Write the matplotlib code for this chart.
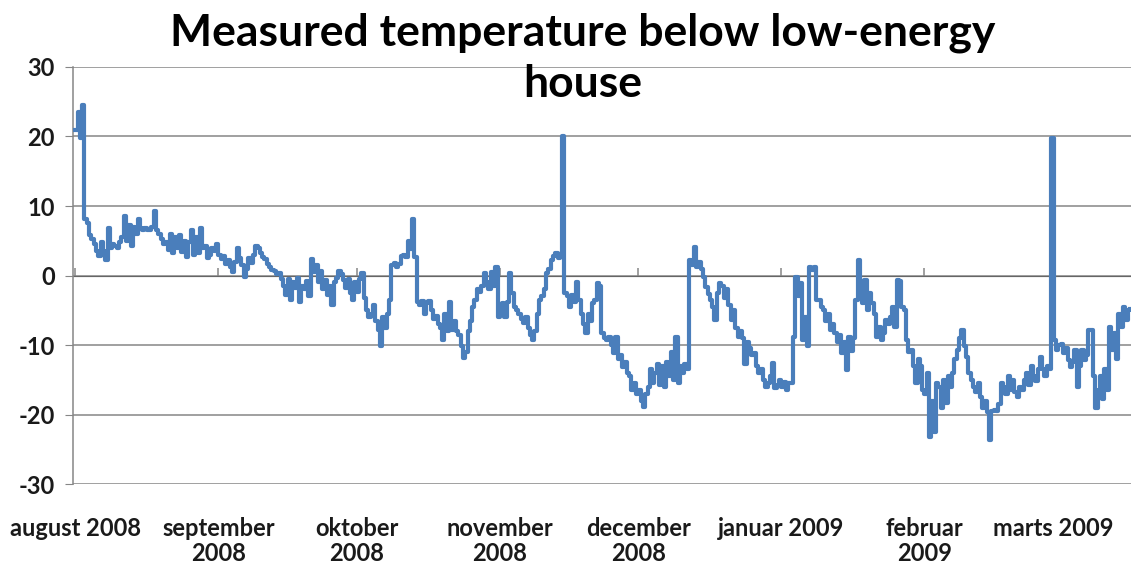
import numpy as np
import pandas as pd
import matplotlib
matplotlib.use("Agg")
import matplotlib.pyplot as plt

# two readings per day (00:00 and 12:00)
aug_2008 = [21.0, 23.5, 19.8, 24.6, 8.2, 7.6, 5.8, 5.2, 4.5, 3.5, 2.8, 4.8, 3.5, 2.3,
            6.8, 4.0, 4.6, 4.2, 4.0, 4.8, 5.5, 8.5, 5.0, 7.2, 4.2, 7.0, 6.0, 8.2,
            6.8, 6.6, 6.8, 6.5, 6.6, 7.0, 9.3, 6.5, 6.0, 5.2, 4.5, 4.8, 3.6, 6.0,
            3.2, 5.5, 4.0, 5.8, 3.4, 5.0, 2.6, 4.8, 6.5, 3.0, 5.5, 3.2, 6.8, 4.0,
            4.2, 2.5, 3.0, 4.0, 3.5, 4.6]
sep_2008 = [3.0, 2.4, 2.8, 1.6, 2.2, 1.2, 0.5, 2.0, 4.0, 2.5, 1.5, -0.2, 1.0, 2.5,
            1.8, 3.0, 4.3, 4.0, 3.2, 2.6, 2.4, 1.6, 1.2, 0.8, 0.6, 0.2, 0.4, -0.5,
            -1.5, -2.8, -0.5, -3.5, -1.0, -1.8, -0.4, -3.8, -1.5, -2.0, -0.8, -3.0,
            2.4, 0.5, 1.5, -1.0, 0.6, -2.0, -0.6, -2.8, -1.5, -4.3, -1.0, -0.3,
            0.6, 0.2, -0.6, -1.8, -0.5, -2.5, -3.5, -1.0]
okt_2008 = [-2.4, -0.5, 0.3, -3.2, -5.0, -6.0, -5.5, -4.2, -6.5, -7.8, -10.2, -6.0,
            -7.5, -5.5, -3.5, 1.5, 1.8, 1.2, 1.6, 2.8, 3.0, 2.6, 5.0, 3.8, 8.2, 2.7,
            -3.8, -4.2, -3.6, -5.5, -4.0, -3.6, -5.0, -6.2, -5.8, -7.0, -7.5, -9.3,
            -5.5, -8.0, -3.8, -7.8, -6.5, -8.0, -8.5, -10.2, -11.8, -11.0, -8.0,
            -6.5, -4.5, -3.5, -2.0, -2.4, -1.5, 0.3, -1.0, -2.0, 0.5, -1.5, 1.2, -6.0]
nov_2008 = [-5.5, -4.0, -6.0, -3.8, 0.3, -2.5, -4.5, -5.0, -5.5, -6.2, -6.8, -6.0,
            -7.5, -8.5, -9.3, -8.0, -5.5, -3.5, -3.0, -2.0, 0.3, 1.0, 2.2, 2.8,
            3.3, 2.5, 3.0, 20.0, -2.5, -3.0, -4.5, -2.8, -3.8, -1.0, -3.5, -5.5,
            -7.0, -8.3, -5.5, -6.5, -4.0, -3.5, -1.1, -1.5, -8.3, -9.0, -9.3, -8.8,
            -10.0, -11.2, -8.8, -12.0, -11.5, -13.2, -12.5, -14.0, -14.5, -16.5,
            -15.5, -17.0]
dec_2008 = [-16.5, -18.0, -18.9, -17.0, -16.0, -13.5, -15.5, -14.0, -12.8, -15.8,
            -13.0, -16.0, -12.5, -14.5, -11.0, -15.0, -8.8, -15.5, -13.0, -14.0,
            -12.8, -13.5, 2.2, 1.5, 4.1, 1.2, 2.0, 1.0, -0.2, -1.6, -2.6, -3.5,
            -4.5, -6.4, -2.5, -1.1, -1.5, -3.3, -2.0, -4.2, -6.4, -5.0, -7.5, -8.8,
            -8.0, -9.0, -12.7, -9.5, -10.5, -11.5, -11.2, -13.0, -14.0, -13.5,
            -15.0, -16.0, -15.5, -14.5, -12.6, -16.2, -15.8, -15.0]
jan_2009 = [-16.0, -15.3, -16.5, -15.5, -15.5, -8.8, -0.2, -3.0, -1.1, -9.3, -6.0,
            -10.2, 1.2, 0.8, 1.2, -3.5, -3.5, -4.5, -5.0, -6.5, -5.5, -7.8, -7.0,
            -8.3, -9.5, -8.5, -11.2, -9.5, -13.6, -8.8, -10.8, -9.0, -3.5, 2.2,
            -1.1, -4.0, -0.6, -5.0, -2.5, -4.0, -5.5, -8.8, -7.4, -9.3, -8.3, -6.4,
            -7.0, -6.0, -4.5, -7.4, -0.6, -0.8, -4.5, -5.0, -9.3, -11.0, -10.7,
            -13.0, -15.5, -12.0, -13.0, -16.5]
feb_2009 = [-17.0, -14.0, -23.2, -18.0, -22.5, -15.5, -16.0, -19.0, -15.0, -18.4,
            -14.4, -16.0, -14.0, -12.0, -10.7, -9.0, -7.8, -10.2, -11.7, -14.0,
            -15.0, -16.0, -16.8, -15.5, -17.5, -19.0, -18.0, -19.7, -23.7, -19.5,
            -19.4, -19.5, -18.5, -15.5, -16.0, -17.0, -14.4, -16.5, -15.0, -16.8,
            -17.5, -16.0, -16.5, -15.0, -14.0, -15.8, -13.0, -14.5, -15.2, -13.5,
            -11.7, -13.5, -14.4, -13.0, -13.5, 19.8]
mar_2009 = [-9.3, -10.7, -10.0, -9.8, -11.2, -10.5, -12.2, -13.1, -12.5, -10.7,
            -16.0, -13.0, -10.7, -12.2, -11.5, -7.8, -7.8, -14.4, -19.0, -16.5,
            -14.5, -17.8, -13.4, -16.5, -7.4, -10.7, -8.3, -12.0, -5.5, -7.4,
            -4.5, -6.4, -5.0, -4.8]

month_ticks = ["2008-08-01", "2008-09-01", "2008-10-01", "2008-11-01",
               "2008-12-01", "2009-01-01", "2009-02-01", "2009-03-01"]
month_labels = ["august 2008", "september\n2008", "oktober\n2008", "november\n2008",
                "december\n2008", "januar 2009", "februar\n2009", "marts 2009"]

temps = aug_2008 + sep_2008 + okt_2008 + nov_2008 + dec_2008 + jan_2009 + feb_2009 + mar_2009
times = pd.date_range("2008-08-01", periods=len(temps), freq="12h")

plt.rcParams['font.family'] = ['Lato', 'DejaVu Sans']
plt.rcParams['axes.unicode_minus'] = False

fig = plt.figure(figsize=(11.31, 5.63), dpi=100)
ax = fig.add_axes([0.0645, 0.1403, 0.9355, 0.7407])

grid_col = "#868686"
for v in range(-30, 31, 10):
    ax.axhline(v, color=grid_col, lw=1.1, zorder=1)

ax.plot(times, temps, color="#4a7ebb", lw=3.0, drawstyle="steps-post", zorder=3)

ax.set_ylim(-30, 30)
ax.set_yticks(range(-30, 31, 10))
ax.set_xlim(pd.Timestamp("2008-07-31 12:00"), pd.Timestamp("2009-03-17 18:00"))

ticks = pd.to_datetime(month_ticks)
ax.set_xticks(ticks)
ax.set_xticklabels(month_labels, fontsize=17, fontweight="bold", color="#1a1a1a",
                   linespacing=1.1, va="top")
ax.tick_params(axis="x", length=0, pad=24)
ax.tick_params(axis="y", length=6, color=grid_col, labelsize=17, pad=7,
               labelcolor="#1a1a1a")
for lab in ax.get_yticklabels():
    lab.set_fontweight("bold")

for s in ["top", "right", "bottom"]:
    ax.spines[s].set_visible(False)
ax.spines["left"].set_color(grid_col)
ax.spines["left"].set_linewidth(1.1)

# horizontal axis crosses at 0, tick marks at each month start
sec = ax.secondary_xaxis(0.5)
sec.set_xticks(ticks)
sec.set_xticklabels([""] * len(ticks))
sec.tick_params(length=6, color=grid_col, width=1.1)
sec.spines["bottom"].set_color(grid_col)

fig.text(0.515, 0.978, "Measured temperature below low-energy\nhouse",
         ha="center", va="top", fontsize=32, fontweight="bold", linespacing=1.35)

fig.savefig("out.png", dpi=100)
